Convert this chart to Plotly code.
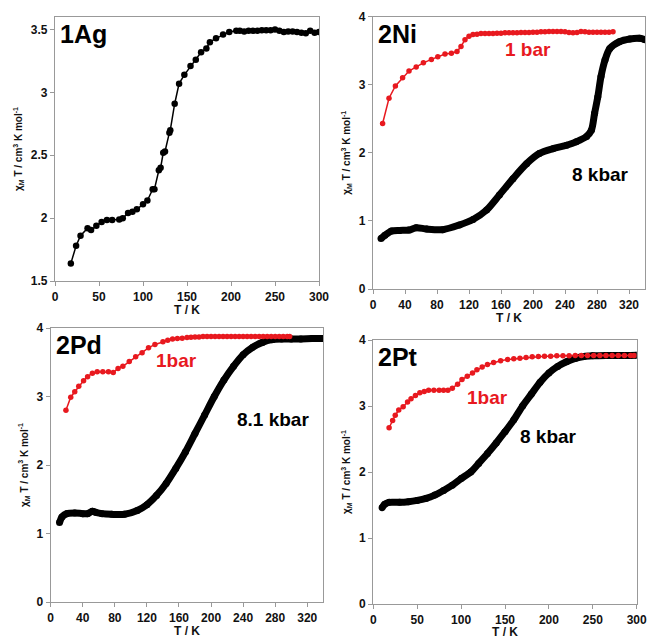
import plotly.graph_objects as go

# ---------------- data ----------------
# 1Ag
ag_T = [18, 24, 29, 37, 41, 47, 53, 59, 65, 73, 77, 83, 88, 93, 100, 105, 111, 113, 118, 120,
        123, 125, 130, 131, 136, 141, 147, 154, 160, 166, 172, 176, 183, 191, 198, 206, 210, 215,
        220, 225, 230, 235, 240, 245, 250, 255, 260, 265, 270, 275, 280, 285, 290, 295, 300]
ag_X = [1.64, 1.78, 1.86, 1.92, 1.905, 1.94, 1.97, 1.985, 1.985, 1.99, 2.0, 2.04, 2.05, 2.07, 2.11,
        2.14, 2.23, 2.23, 2.38, 2.40, 2.52, 2.53, 2.68, 2.70, 2.91, 3.07, 3.14, 3.21, 3.26, 3.32,
        3.35, 3.40, 3.43, 3.46, 3.48, 3.49, 3.49, 3.485, 3.49, 3.49, 3.49, 3.495, 3.495, 3.495,
        3.50, 3.49, 3.48, 3.485, 3.485, 3.48, 3.475, 3.47, 3.49, 3.475, 3.48]

# 2Ni, 1 bar
ni1_T = [12, 20, 28, 37, 45, 54, 63, 73, 81, 90, 98, 105, 110, 115, 120, 125, 130, 135, 140, 145,
         150, 155, 160, 165, 170, 175, 180, 185, 190, 195, 200, 205, 210, 215, 220, 225, 230, 235,
         240, 245, 250, 255, 260, 265, 270, 275, 280, 285, 290, 295, 300]
ni1_X = [2.43, 2.80, 2.98, 3.10, 3.20, 3.26, 3.32, 3.37, 3.41, 3.45, 3.46, 3.485, 3.56, 3.66, 3.71,
         3.735, 3.74, 3.75, 3.75, 3.75, 3.75, 3.755, 3.755, 3.76, 3.76, 3.76, 3.76, 3.765, 3.765,
         3.765, 3.77, 3.77, 3.775, 3.775, 3.78, 3.78, 3.78, 3.78, 3.775, 3.765, 3.76, 3.765, 3.78,
         3.775, 3.77, 3.77, 3.77, 3.77, 3.77, 3.77, 3.775]
# 2Ni, 8 kbar
ni8_T = [10, 15, 23, 33, 45, 54, 67, 87, 108, 125, 142, 158, 175, 192, 208, 225, 242, 254, 267,
         273, 277, 281, 285, 290, 296, 308, 321, 333, 340]
ni8_X = [0.74, 0.79, 0.85, 0.86, 0.865, 0.90, 0.88, 0.87, 0.94, 1.02, 1.16, 1.38, 1.62, 1.84, 1.99,
         2.06, 2.11, 2.16, 2.24, 2.33, 2.58, 2.82, 3.12, 3.36, 3.53, 3.63, 3.67, 3.68, 3.66]

# 2Pd, 1 bar
pd1_T = [19, 25, 30, 35, 41, 46, 52, 58, 65, 72, 78, 84, 90, 98, 106, 114, 122, 130, 140, 146, 152,
         158, 164, 170, 175, 180, 185, 190, 195, 200, 205, 210, 215, 220, 225, 230, 235, 240, 245,
         250, 255, 260, 265, 270, 275, 280, 285, 290, 295, 298]
pd1_X = [2.80, 2.99, 3.07, 3.15, 3.23, 3.29, 3.34, 3.36, 3.36, 3.36, 3.35, 3.41, 3.44, 3.51, 3.58,
         3.64, 3.71, 3.76, 3.80, 3.82, 3.84, 3.845, 3.85, 3.86, 3.865, 3.87, 3.87, 3.875, 3.875,
         3.875, 3.875, 3.875, 3.875, 3.875, 3.875, 3.875, 3.875, 3.875, 3.875, 3.875, 3.875, 3.875,
         3.875, 3.875, 3.875, 3.875, 3.875, 3.875, 3.875, 3.875]
# 2Pd, 8.1 kbar
pd8_T = [11, 14, 20, 30, 40, 46, 52, 56, 64, 76, 92, 108, 120, 132, 144, 156, 168, 180, 192, 204,
         216, 228, 240, 252, 264, 276, 288, 300, 312, 326, 340]
pd8_X = [1.16, 1.24, 1.29, 1.30, 1.29, 1.29, 1.325, 1.31, 1.29, 1.28, 1.28, 1.335, 1.42, 1.555, 1.73,
         1.95, 2.19, 2.46, 2.73, 3.00, 3.24, 3.44, 3.61, 3.72, 3.79, 3.83, 3.84, 3.84, 3.84, 3.845,
         3.845]

# 2Pt, 1 bar
pt1_T = [18, 22, 25, 29, 34, 39, 43, 48, 53, 58, 63, 69, 75, 80, 85, 90, 96, 101, 107, 113, 118,
         124, 130, 137, 145, 153, 160, 167, 174, 181, 188, 195, 202, 209, 216, 223, 230, 237, 244,
         251, 258, 265, 272, 279, 286, 293, 297]
pt1_X = [2.67, 2.78, 2.86, 2.94, 2.99, 3.06, 3.11, 3.16, 3.20, 3.22, 3.24, 3.24, 3.24, 3.24, 3.24,
         3.27, 3.33, 3.40, 3.45, 3.50, 3.55, 3.59, 3.63, 3.66, 3.685, 3.705, 3.715, 3.725, 3.735,
         3.745, 3.75, 3.755, 3.755, 3.76, 3.76, 3.76, 3.765, 3.765, 3.765, 3.765, 3.765, 3.765,
         3.765, 3.765, 3.765, 3.765, 3.765]
# 2Pt, 8 kbar
pt8_T = [10, 13, 18, 30, 40, 50, 60, 70, 80, 90, 100, 111, 120, 130, 140, 150, 160, 170, 180, 190,
         200, 210, 220, 230, 240, 250, 265, 280, 300]
pt8_X = [1.46, 1.51, 1.54, 1.54, 1.55, 1.57, 1.60, 1.65, 1.72, 1.80, 1.90, 2.00, 2.13, 2.28, 2.44,
         2.61, 2.79, 3.00, 3.18, 3.36, 3.50, 3.60, 3.67, 3.72, 3.75, 3.76, 3.765, 3.765, 3.77]

panel_labels = ["1Ag", "2Ni", "2Pd", "2Pt"]
RED = "#e8191f"
BLK = "#000000"
FONT = "Arial, Liberation Sans, sans-serif"

fig = go.Figure()

def dots(x, y, color, size, lw, axis):
    fig.add_trace(go.Scatter(x=x, y=y, mode="lines+markers",
                             line=dict(color=color, width=lw),
                             marker=dict(color=color, size=size),
                             xaxis="x" + axis, yaxis="y" + axis, showlegend=False))

def thick(x, y, axis):
    fig.add_trace(go.Scatter(x=x, y=y, mode="lines+markers",
                             line=dict(color=BLK, width=7, shape="spline", smoothing=0.8),
                             marker=dict(color=BLK, size=7),
                             xaxis="x" + axis, yaxis="y" + axis, showlegend=False))

dots(ag_T, ag_X, BLK, 6.5, 1.5, "")
thick(ni8_T, ni8_X, "2")
dots(ni1_T, ni1_X, RED, 5.5, 1.5, "2")
thick(pd8_T, pd8_X, "3")
dots(pd1_T, pd1_X, RED, 5.5, 1.5, "3")
thick(pt8_T, pt8_X, "4")
dots(pt1_T, pt1_X, RED, 5.5, 1.5, "4")

W, H = 647, 639

def dx(a, b):
    return [a / W, b / W]

def dy(bottom, top):
    return [1 - bottom / H, 1 - top / H]

domains = [
    (dx(55, 319), dy(281, 17)),
    (dx(373, 645), dy(289, 16.5)),
    (dx(50.7, 323.3), dy(602, 328)),
    (dx(373.3, 636.7), dy(604, 340)),
]
xranges = [[0, 300], [0, 340], [0, 340], [0, 300]]
xdtick = [50, 40, 40, 50]
yranges = [[1.5, 3.6], [0, 4], [0, 4], [0, 4]]
ydtick = [0.5, 1, 1, 1]

ytitle = "χ<sub>M</sub> T / cm<sup>3</sup> K mol<sup>-1</sup>"
layout = dict(width=W, height=H, margin=dict(l=0, r=0, t=0, b=0),
              paper_bgcolor="white", plot_bgcolor="white",
              font=dict(family=FONT, color="#111"))
for i in range(4):
    s = "" if i == 0 else str(i + 1)
    ax = dict(domain=domains[i][0], range=xranges[i], dtick=xdtick[i], tick0=0,
              showline=True, mirror=True, linecolor="#999", linewidth=1.2,
              ticks="outside", ticklen=4, tickcolor="#999", showgrid=False, zeroline=False,
              tickfont=dict(family=FONT, size=12, color="#111", weight="bold"),
              ticklabeloverflow="allow",
              title=dict(text="<b>T / K</b>", font=dict(family=FONT, size=12, color="#111"),
                         standoff=2),
              anchor="y" + s, automargin=False)
    ay = dict(domain=domains[i][1], range=yranges[i], dtick=ydtick[i],
              tick0=yranges[i][0],
              showline=True, mirror=True, linecolor="#999", linewidth=1.2,
              ticks="outside", ticklen=4, tickcolor="#999", showgrid=False, zeroline=False,
              tickfont=dict(family=FONT, size=12, color="#111", weight="bold"),
              ticklabeloverflow="allow",
              title=dict(text=ytitle, font=dict(family=FONT, size=10, color="#111", weight="bold"),
                         standoff=6),
              anchor="x" + s, automargin=False)
    layout["xaxis" + s] = ax
    layout["yaxis" + s] = ay

fig.update_layout(**layout)

ann = []
for i, lab in enumerate(panel_labels):
    s = "" if i == 0 else str(i + 1)
    ann.append(dict(text="<b>%s</b>" % lab, xref="x%s domain" % s if s else "x domain",
                    yref="y%s domain" % s if s else "y domain",
                    x=0.012, y=0.995, xanchor="left", yanchor="top", showarrow=False,
                    font=dict(family=FONT, size=25, color="#000")))
ann += [
    dict(text="<b>1 bar</b>", x=194, y=3.51, xref="x2", yref="y2", showarrow=False,
         font=dict(family=FONT, size=19, color=RED)),
    dict(text="<b>8 kbar</b>", x=284, y=1.68, xref="x2", yref="y2", showarrow=False,
         font=dict(family=FONT, size=19, color=BLK)),
    dict(text="<b>1bar</b>", x=157, y=3.53, xref="x3", yref="y3", showarrow=False,
         font=dict(family=FONT, size=19, color=RED)),
    dict(text="<b>8.1 kbar</b>", x=277, y=2.67, xref="x3", yref="y3", showarrow=False,
         font=dict(family=FONT, size=19, color=BLK)),
    dict(text="<b>1bar</b>", x=130, y=3.13, xref="x4", yref="y4", showarrow=False,
         font=dict(family=FONT, size=19, color=RED)),
    dict(text="<b>8 kbar</b>", x=200, y=2.54, xref="x4", yref="y4", showarrow=False,
         font=dict(family=FONT, size=19, color=BLK)),
]
fig.update_layout(annotations=ann)

# remove the browser's default 8px page margin so the figure fills the window exactly
fig.write_html("out.html", config={"displayModeBar": False},
               post_script="document.body.style.margin='0';document.body.style.overflow='hidden';")
